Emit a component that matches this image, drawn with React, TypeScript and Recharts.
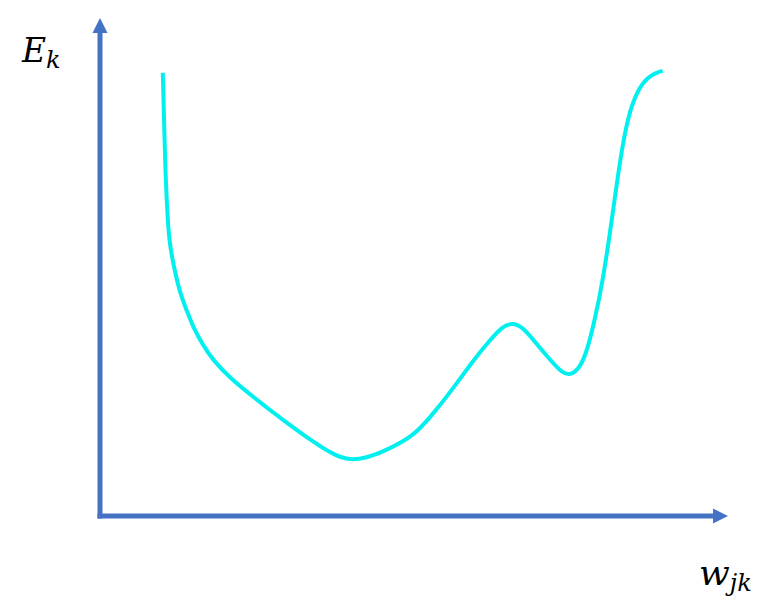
import { LineChart, Line, XAxis, YAxis, ReferenceLine } from "recharts";

const AXIS_COLOR = "#4472C4";
const CURVE_COLOR = "#00F0F0";

// weight value (w_jk) and error (E_k) in 0..10 units
const weights = [
  1.0, 1.02, 1.04, 1.07, 1.1, 1.16, 1.27, 1.39, 1.48, 1.64, 1.8, 2.07, 2.42,
  2.91, 3.46, 3.74, 3.98, 4.22, 4.51, 4.98, 5.25, 5.57, 5.97, 6.21, 6.42, 6.58,
  6.74, 6.93, 7.17, 7.36, 7.48, 7.61, 7.74, 7.88, 8.01, 8.15, 8.28, 8.41, 8.57,
  8.76, 8.96,
];
const errors = [
  8.9, 7.95, 6.95, 6.14, 5.54, 5.1, 4.48, 4.1, 3.8, 3.43, 3.13, 2.77, 2.41,
  1.93, 1.43, 1.22, 1.12, 1.16, 1.29, 1.59, 1.97, 2.47, 3.17, 3.53, 3.82, 3.88,
  3.78, 3.49, 3.13, 2.87, 2.83, 2.93, 3.23, 3.94, 4.74, 5.94, 7.15, 8.05, 8.59,
  8.86, 8.94,
];

const data = weights.map((w, i) => ({ w, e: errors[i] }));

function Arrow(props: any) {
  const { x1, y1, x2, y2, label, vertical } = props;
  const head = 15;
  const half = 7.5;
  const tri = vertical
    ? `${x2},${y2} ${x2 - half},${y2 + head} ${x2 + half},${y2 + head}`
    : `${x2},${y2} ${x2 - head},${y2 - half} ${x2 - head},${y2 + half}`;
  // label sits left of the y tip, below the x tip
  const lx = vertical ? x2 - 78 : x2 - 29;
  const ly = vertical ? y2 + 44 : y2 + 69;
  return (
    <g>
      <line
        x1={vertical ? x1 : x1 - 2.5}
        y1={vertical ? y1 + 2.5 : y1}
        x2={vertical ? x2 : x2 - head + 1}
        y2={vertical ? y2 + head - 1 : y2}
        stroke={AXIS_COLOR}
        strokeWidth={5}
      />
      <polygon points={tri} fill={AXIS_COLOR} />
      <text
        x={lx}
        y={ly}
        fontFamily="'DejaVu Serif', serif"
        fontStyle="italic"
        fontSize={vertical ? 33 : 36}
        fill="#000"
      >
        {label[0]}
        <tspan fontSize={24} dy={6}>
          {label[1]}
        </tspan>
      </text>
    </g>
  );
}

export default function App() {
  return (
    <div style={{ position: "absolute", left: 0, top: 0, background: "#fff" }}>
      <LineChart
        width={775}
        height={604}
        data={data}
        margin={{ top: 18, right: 47, bottom: 88, left: 100 }}
      >
        <XAxis dataKey="w" type="number" domain={[0, 10]} hide />
        <YAxis type="number" domain={[0, 10]} hide />
        <Line
          dataKey="e"
          type="basis"
          stroke={CURVE_COLOR}
          strokeWidth={4}
          dot={false}
          isAnimationActive={false}
        />
        <ReferenceLine
          segment={[
            { x: 0, y: 0 },
            { x: 0, y: 10 },
          ]}
          ifOverflow="visible"
          shape={(p: any) => <Arrow {...p} vertical label={["E", "k"]} />}
        />
        <ReferenceLine
          segment={[
            { x: 0, y: 0 },
            { x: 10, y: 0 },
          ]}
          ifOverflow="visible"
          shape={(p: any) => <Arrow {...p} label={["w", "jk"]} />}
        />
      </LineChart>
    </div>
  );
}
